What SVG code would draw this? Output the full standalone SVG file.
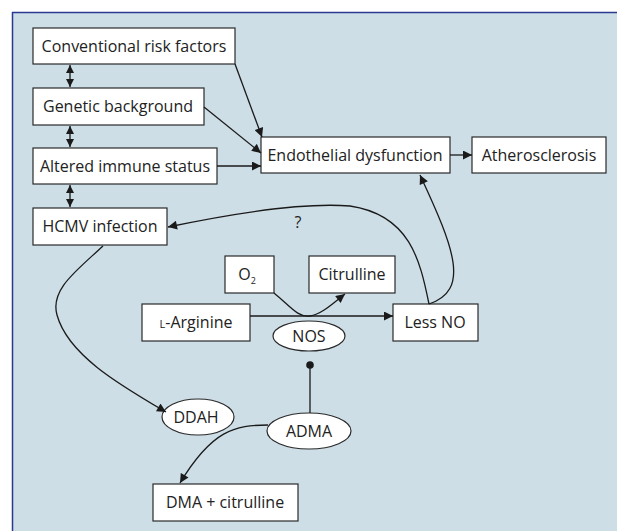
<svg xmlns="http://www.w3.org/2000/svg" width="617" height="531" viewBox="0 0 617 531">
<defs>
<marker id="ah" viewBox="0 0 10 10" refX="10" refY="5" markerWidth="10" markerHeight="9" markerUnits="userSpaceOnUse" orient="auto">
<path d="M0,0 L10,5 L0,10 z" fill="#1a1a1a"/>
</marker>
<marker id="ahs" viewBox="0 0 10 10" refX="10" refY="5" markerWidth="8" markerHeight="8" markerUnits="userSpaceOnUse" orient="auto-start-reverse">
<path d="M0,0 L10,5 L0,10 z" fill="#1a1a1a"/>
</marker>
</defs>
<style>
.box{fill:#fff;stroke:#2a2a2a;stroke-width:1.2}
.t{font-family:"Open Sans","Liberation Sans",sans-serif;font-size:16px;fill:#222;text-anchor:middle}
.c{fill:none;stroke:#1a1a1a;stroke-width:1.3}
</style>
<rect x="0" y="0" width="617" height="531" fill="#fff"/>
<rect x="12" y="12" width="605" height="519" fill="#cddee6"/>
<line x1="12" y1="12.5" x2="617" y2="12.5" stroke="#2b3990" stroke-width="1.5"/>
<line x1="12.5" y1="12" x2="12.5" y2="531" stroke="#2b3990" stroke-width="1.5"/>

<g id="conventional"><rect class="box" x="33" y="28" width="202" height="36"/><text class="t" x="134" y="52">Conventional risk factors</text></g>
<g id="genetic"><rect class="box" x="33" y="88" width="171" height="37"/><text class="t" x="118" y="112">Genetic background</text></g>
<g id="altered"><rect class="box" x="33" y="148" width="184" height="36"/><text class="t" x="125" y="172">Altered immune status</text></g>
<g id="hcmv"><rect class="box" x="33" y="208" width="134" height="37"/><text class="t" x="100" y="232">HCMV infection</text></g>
<g id="endothelial"><rect class="box" x="261" y="137" width="189" height="36"/><text class="t" x="355" y="161">Endothelial dysfunction</text></g>
<g id="athero"><rect class="box" x="472" y="137" width="134" height="36"/><text class="t" x="539" y="161">Atherosclerosis</text></g>
<g id="o2"><rect class="box" x="225" y="256" width="49" height="37"/><text class="t" x="247" y="280">O<tspan font-size="9" dy="4">2</tspan></text></g>
<g id="citrulline"><rect class="box" x="309" y="256" width="86" height="37"/><text class="t" x="352" y="280">Citrulline</text></g>
<g id="larginine"><rect class="box" x="142" y="304" width="108" height="37"/><text class="t" x="196" y="328"><tspan font-size="11">L</tspan>-Arginine</text></g>
<g id="lessno"><rect class="box" x="393" y="304" width="85" height="37"/><text class="t" x="435" y="328">Less NO</text></g>
<g id="nos"><ellipse class="box" cx="309" cy="336" rx="36" ry="15"/><text class="t" x="309" y="342">NOS</text></g>
<g id="ddah"><ellipse class="box" cx="198" cy="417" rx="36" ry="18"/><text class="t" x="196" y="423">DDAH</text></g>
<g id="adma"><ellipse class="box" cx="309" cy="431" rx="42" ry="18"/><text class="t" x="309" y="437">ADMA</text></g>
<g id="dma"><rect class="box" x="153" y="484" width="145" height="37"/><text class="t" x="225" y="508">DMA + citrulline</text></g>

<g id="connectors">
<line class="c" x1="70" y1="65" x2="70" y2="87" marker-start="url(#ahs)" marker-end="url(#ahs)"/>
<line class="c" x1="70" y1="126" x2="70" y2="147" marker-start="url(#ahs)" marker-end="url(#ahs)"/>
<line class="c" x1="70" y1="185" x2="70" y2="207" marker-start="url(#ahs)" marker-end="url(#ahs)"/>
<line class="c" x1="235" y1="64" x2="262" y2="137" marker-end="url(#ah)"/>
<line class="c" x1="204" y1="107" x2="261" y2="153" marker-end="url(#ah)"/>
<line class="c" x1="217" y1="166" x2="261" y2="166" marker-end="url(#ah)"/>
<line class="c" x1="450" y1="155" x2="472" y2="155" marker-end="url(#ah)"/>
<line class="c" x1="250" y1="316" x2="393" y2="316" marker-end="url(#ah)"/>
<path class="c" d="M274,293 C290,306 298,318 310,316 C322,314 332,304 345,294" marker-end="url(#ah)"/>
<path class="c" d="M429,304 C420,260 410,215 350,206 C300,202 230,214 168,227" marker-end="url(#ah)"/>
<path class="c" d="M429,304 C470,290 455,250 420,175" marker-end="url(#ah)"/>
<path class="c" d="M103,246 C75,272 50,290 57,315 C68,355 120,385 166,412" marker-end="url(#ah)"/>
<line class="c" x1="310" y1="365" x2="310" y2="413"/>
<circle cx="310" cy="365" r="3.8" fill="#1a1a1a"/>
<path class="c" d="M268,425 C235,425 212,430 180,483" marker-end="url(#ah)"/>
</g>
<text class="t" x="298" y="228" font-size="13">?</text>
</svg>
